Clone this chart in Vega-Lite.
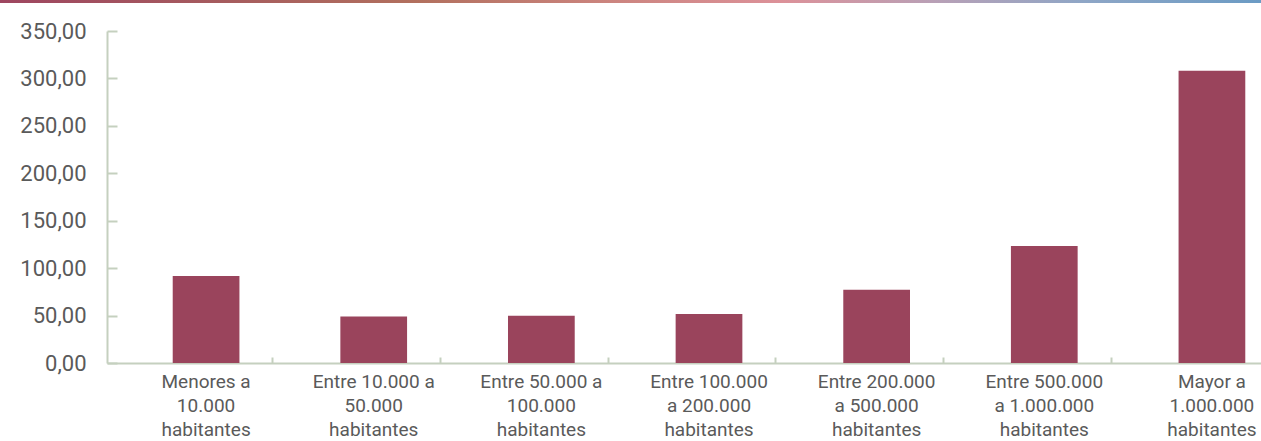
{
  "$schema": "https://vega.github.io/schema/vega-lite/v6.json",
  "width": 1204,
  "height": 332,
  "autosize": {"type": "none"},
  "padding": {"left": 107, "top": 31, "right": 0, "bottom": 78},
  "background": "white",
  "config": {"view": {"stroke": null}, "font": "Roboto"},
  "resolve": {"scale": {"x": "independent"}, "axis": {"x": "independent"}},
  "layer": [
    {
      "data": {"values": [
        {"poblacion": "Menores a\n10.000\nhabitantes", "valor": 91.7},
        {"poblacion": "Entre 10.000 a\n50.000\nhabitantes", "valor": 48.9},
        {"poblacion": "Entre 50.000 a\n100.000\nhabitantes", "valor": 49.9},
        {"poblacion": "Entre 100.000\na 200.000\nhabitantes", "valor": 51.6},
        {"poblacion": "Entre 200.000\na 500.000\nhabitantes", "valor": 77.3},
        {"poblacion": "Entre 500.000\na 1.000.000\nhabitantes", "valor": 123.3},
        {"poblacion": "Mayor a\n1.000.000\nhabitantes", "valor": 308.1}
      ]},
      "mark": {"type": "bar", "color": "#9A445C"},
      "encoding": {
        "x": {
          "field": "poblacion", "type": "nominal", "sort": null,
          "scale": {"paddingInner": 0.602, "paddingOuter": 0.392},
          "axis": {
            "title": null, "labelAngle": 0,
            "labelExpr": "split(datum.label, '\\n')",
            "labelFontSize": 19, "labelColor": "#5A5A5A", "labelLineHeight": 24,
            "labelPadding": 15, "labelLimit": 200,
            "domainColor": "#C5D0BF", "domainWidth": 2,
            "tickColor": "#C5D0BF", "tickWidth": 2, "tickSize": -6,
            "bandPosition": 1.5
          }
        },
        "y": {
          "field": "valor", "type": "quantitative",
          "scale": {"domain": [0, 350], "nice": false},
          "axis": {
            "title": null, "grid": false,
            "values": [0, 50, 100, 150, 200, 250, 300, 350],
            "labelExpr": "replace(format(datum.value, '.2f'), '.', ',')",
            "labelFontSize": 22, "labelColor": "#5A5A5A", "labelPadding": 31,
            "domainColor": "#C5D0BF", "domainWidth": 2,
            "tickColor": "#C5D0BF", "tickWidth": 2, "tickSize": -10
          }
        }
      }
    },
    {
      "data": {"values": [{"franja": "superior"}]},
      "mark": {
        "type": "rect",
        "color": {
          "gradient": "linear", "x1": 0, "x2": 1, "y1": 0, "y2": 0,
          "stops": [
            {"offset": 0, "color": "#9E4660"},
            {"offset": 0.18, "color": "#A65C5E"},
            {"offset": 0.33, "color": "#B2705E"},
            {"offset": 0.48, "color": "#CB847E"},
            {"offset": 0.62, "color": "#DC9199"},
            {"offset": 0.74, "color": "#B9A0B6"},
            {"offset": 0.86, "color": "#8EA6C6"},
            {"offset": 1, "color": "#6B9BC4"}
          ]
        }
      },
      "encoding": {
        "x": {"datum": -0.0889, "type": "quantitative", "scale": {"domain": [0, 1], "nice": false, "zero": false}, "axis": null},
        "x2": {"datum": 0.9585},
        "y": {"datum": 382.7, "type": "quantitative"},
        "y2": {"datum": 379.5}
      }
    }
  ]
}
